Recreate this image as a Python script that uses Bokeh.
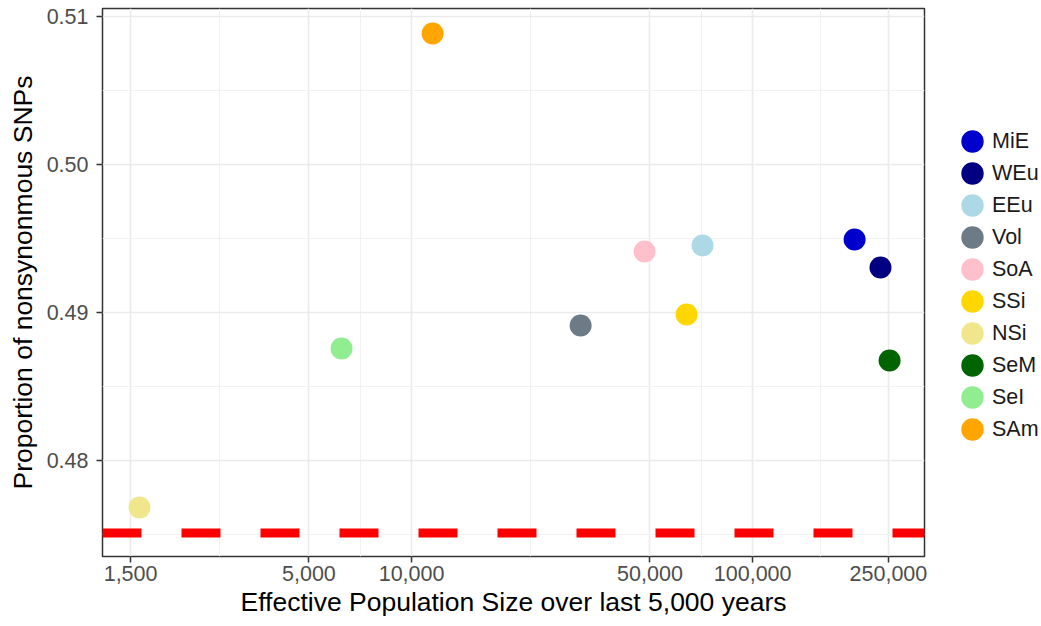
from bokeh.plotting import figure
from bokeh.models import (ColumnDataSource, Legend, LegendItem, Span, FixedTicker,
                          NumeralTickFormatter, Range1d)
from bokeh.embed import file_html
from bokeh.resources import INLINE
import math

# ---- data ----
groups = ["MiE", "WEu", "EEu", "Vol", "SoA", "SSi", "NSi", "SeM", "SeI", "SAm"]
ne = [199000, 237000, 71300, 31300, 48200, 64000, 1593, 252000, 6232, 11525]
prop = [0.49493, 0.49304, 0.49453, 0.48912, 0.49412, 0.48986, 0.47682, 0.48676, 0.48757, 0.50885]
colors = ["#0000CD", "#000080", "#ADD8E6", "#6C7B85", "#FFC0CB",
          "#FFD700", "#F0E68C", "#006400", "#90EE90", "#FFA500"]
x_ticks = [1500, 5000, 10000, 50000, 100000, 250000]
y_ticks = [0.48, 0.49, 0.50, 0.51]
threshold = 0.4751

x_minor = [math.sqrt(a * b) for a, b in zip(x_ticks[:-1], x_ticks[1:])]
y_minor = [0.475, 0.485, 0.495, 0.505]

FONT = "Liberation Sans"

p = figure(frame_width=822, frame_height=548, x_axis_type="log",
           x_range=Range1d(1241, 319000), y_range=Range1d(0.47351, 0.51054),
           min_border_left=102, min_border_right=115, min_border_top=8, min_border_bottom=62,
           output_backend="svg", toolbar_location=None)

p.background_fill_color = "white"
p.border_fill_color = "white"
p.outline_line_color = "#333333"
p.outline_line_width = 1.5

# grids
p.xgrid.ticker = FixedTicker(ticks=x_ticks, minor_ticks=x_minor)
p.ygrid.ticker = FixedTicker(ticks=y_ticks, minor_ticks=y_minor)
for g in (p.xgrid, p.ygrid):
    g.grid_line_color = "#EBEBEB"
    g.grid_line_width = 1.6
    g.minor_grid_line_color = "#F2F2F2"
    g.minor_grid_line_width = 1.0

# axes
p.xaxis.ticker = FixedTicker(ticks=x_ticks, minor_ticks=x_minor)
p.yaxis.ticker = FixedTicker(ticks=y_ticks, minor_ticks=y_minor)
p.xaxis.formatter = NumeralTickFormatter(format="0,0")
p.yaxis.formatter = NumeralTickFormatter(format="0.00")
for ax in (p.xaxis[0], p.yaxis[0]):
    ax.axis_line_color = None
    ax.major_tick_line_color = "#333333"
    ax.major_tick_line_width = 1.5
    ax.major_tick_out = 6
    ax.major_tick_in = 0
    ax.minor_tick_out = 0
    ax.minor_tick_in = 0
    ax.major_label_text_font = FONT
    ax.major_label_text_font_size = "21.5px"
    ax.major_label_text_color = "#4D4D4D"
    ax.axis_label_text_font = FONT
    ax.axis_label_text_font_size = "26.5px"
    ax.axis_label_text_font_style = "normal"
    ax.axis_label_text_color = "black"

p.xaxis.axis_label = "Effective Population Size over last 5,000 years"
p.yaxis.axis_label = "Proportion of nonsynonmous SNPs"
p.xaxis.major_label_standoff = 3
p.xaxis.axis_label_standoff = 3
p.yaxis.major_label_standoff = 8
p.yaxis.axis_label_standoff = 6

# red dashed threshold line
p.add_layout(Span(location=threshold, dimension="width", line_color="#FF0000",
                  line_width=9, line_dash="39 40"))

src = ColumnDataSource(dict(x=ne, y=prop, color=colors, group=groups))
r = p.ellipse("x", "y", source=src, width=22, height=22,
              width_units="screen", height_units="screen",
              fill_color="color", line_color=None)

items = [LegendItem(label=g, renderers=[r], index=i) for i, g in enumerate(groups)]
legend = Legend(items=items, location=(34, 113), orientation="vertical",
                glyph_width=28, glyph_height=28, spacing=4, label_standoff=6,
                padding=0, margin=0, background_fill_alpha=0, border_line_alpha=0,
                label_text_font=FONT, label_text_font_size="21.5px", label_text_color="#1A1A1A")
p.add_layout(legend, "right")

open("out.html", "w").write(file_html(p, INLINE))
